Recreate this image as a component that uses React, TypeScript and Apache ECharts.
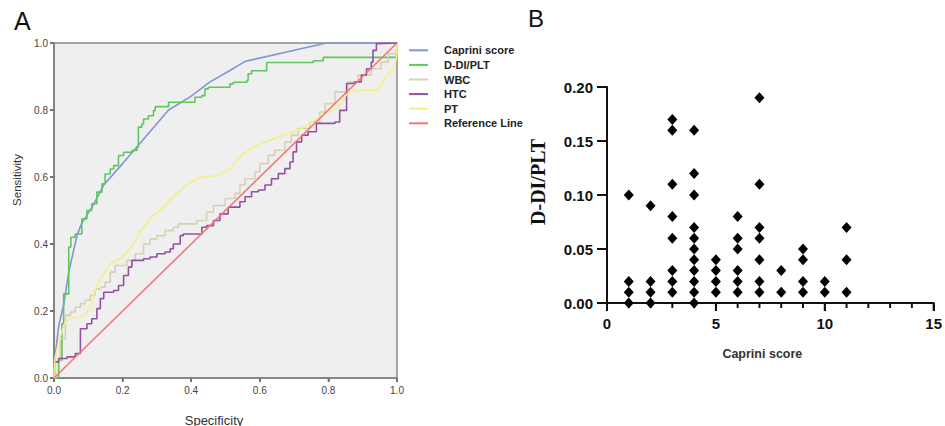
import React, { useEffect, useRef } from "react";
import * as echarts from "echarts";

// ---------- Panel A: ROC curves (x = specificity axis, y = sensitivity) ----------
const rocTickValues = [0, 0.2, 0.4, 0.6, 0.8, 1.0];

const capriniRoc: [number, number][] = [
  [0, 0], [0.005, 0.08], [0.014, 0.157], [0.028, 0.217], [0.043, 0.316], [0.067, 0.425],
  [0.08, 0.46], [0.111, 0.51], [0.145, 0.576], [0.2, 0.64], [0.246, 0.695], [0.334, 0.8],
  [0.397, 0.839], [0.455, 0.884], [0.513, 0.918], [0.557, 0.945], [0.794, 1.0], [1, 1],
];

const ddiPltRoc: [number, number][] = [
  [0, 0], [0.0136, 0.053], [0.023, 0.162], [0.028, 0.251], [0.035, 0.251], [0.043, 0.391],
  [0.049, 0.42], [0.062, 0.43], [0.081, 0.475], [0.096, 0.5], [0.11, 0.52], [0.125, 0.555],
  [0.14, 0.58], [0.149, 0.609], [0.164, 0.624], [0.174, 0.634], [0.188, 0.664], [0.203, 0.674],
  [0.227, 0.679], [0.242, 0.689], [0.246, 0.749], [0.256, 0.758], [0.261, 0.773], [0.275, 0.783],
  [0.29, 0.798], [0.295, 0.81], [0.324, 0.81], [0.334, 0.823], [0.406, 0.823], [0.411, 0.838],
  [0.431, 0.843], [0.44, 0.863], [0.45, 0.868], [0.513, 0.878], [0.523, 0.883], [0.562, 0.888],
  [0.566, 0.908], [0.576, 0.917], [0.615, 0.917], [0.62, 0.942], [0.756, 0.947], [0.785, 0.957],
  [0.998, 0.957], [1.0, 1.0],
];

const wbcRoc: [number, number][] = [
  [0, 0], [0.004, 0.048], [0.018, 0.117], [0.033, 0.187], [0.048, 0.197], [0.062, 0.212],
  [0.077, 0.222], [0.091, 0.232], [0.106, 0.247], [0.12, 0.266], [0.135, 0.271], [0.149, 0.286],
  [0.164, 0.316], [0.178, 0.336], [0.212, 0.351], [0.237, 0.371], [0.261, 0.4], [0.28, 0.415],
  [0.3, 0.425], [0.324, 0.44], [0.348, 0.45], [0.363, 0.46], [0.416, 0.47], [0.445, 0.495],
  [0.465, 0.515], [0.499, 0.536], [0.528, 0.551], [0.542, 0.576], [0.557, 0.595], [0.586, 0.615],
  [0.6, 0.64], [0.625, 0.665], [0.644, 0.68], [0.673, 0.705], [0.692, 0.725], [0.712, 0.745],
  [0.746, 0.764], [0.775, 0.794], [0.79, 0.819], [0.819, 0.854], [0.857, 0.884], [0.887, 0.904],
  [0.925, 0.923], [0.954, 0.943], [0.974, 0.968], [1.0, 1.0],
];

const htcRoc: [number, number][] = [
  [0, 0], [0.001, 0.048], [0.0136, 0.058], [0.038, 0.063], [0.062, 0.073], [0.077, 0.147],
  [0.096, 0.162], [0.11, 0.177], [0.125, 0.207], [0.135, 0.237], [0.145, 0.256], [0.174, 0.261],
  [0.188, 0.276], [0.203, 0.306], [0.217, 0.331], [0.227, 0.351], [0.261, 0.356], [0.28, 0.361],
  [0.3, 0.371], [0.324, 0.376], [0.339, 0.386], [0.348, 0.4], [0.368, 0.425], [0.377, 0.43],
  [0.416, 0.43], [0.431, 0.45], [0.445, 0.455], [0.465, 0.47], [0.484, 0.49], [0.508, 0.51],
  [0.542, 0.526], [0.557, 0.541], [0.576, 0.556], [0.596, 0.561], [0.615, 0.576], [0.634, 0.595],
  [0.654, 0.61], [0.673, 0.625], [0.688, 0.645], [0.697, 0.675], [0.707, 0.705], [0.722, 0.725],
  [0.741, 0.735], [0.765, 0.76], [0.819, 0.764], [0.833, 0.799], [0.853, 0.879], [0.877, 0.884],
  [0.896, 0.904], [0.911, 0.923], [0.925, 0.943], [0.93, 0.978], [0.94, 0.998], [0.945, 1.0], [1, 1],
];

const ptRoc: [number, number][] = [
  [0, 0], [0.004, 0.063], [0.033, 0.167], [0.048, 0.177], [0.086, 0.187], [0.106, 0.217],
  [0.125, 0.276], [0.149, 0.316], [0.164, 0.341], [0.193, 0.356], [0.222, 0.386], [0.251, 0.435],
  [0.28, 0.475], [0.319, 0.511], [0.358, 0.551], [0.416, 0.595], [0.474, 0.605], [0.513, 0.625],
  [0.547, 0.665], [0.596, 0.695], [0.644, 0.715], [0.712, 0.74], [0.75, 0.764], [0.79, 0.789],
  [0.828, 0.809], [0.857, 0.849], [0.896, 0.859], [0.94, 0.859], [0.964, 0.894], [0.988, 0.923],
  [0.998, 0.953], [1.0, 1.0],
];

const referenceLine: [number, number][] = [[0, 0], [1, 1]];

const rocNames = ["Caprini score", "D-DI/PLT", "WBC", "HTC", "PT", "Reference Line"];
const rocColors = ["#8196d6", "#5cc85c", "#d6d0b4", "#9550a4", "#f5f086", "#f27878"];

// ---------- Panel B: scatter of D-DI/PLT by Caprini score ----------
const capriniScores = [1, 2, 3, 4, 5, 6, 7, 8, 9, 10, 11];
const ddiPltByScore = [
  [0.1, 0.02, 0.01, 0.0],
  [0.09, 0.02, 0.01, 0.0],
  [0.17, 0.16, 0.11, 0.08, 0.06, 0.03, 0.02, 0.01],
  [0.16, 0.12, 0.1, 0.07, 0.06, 0.05, 0.04, 0.03, 0.02, 0.01, 0.0],
  [0.04, 0.03, 0.02, 0.01],
  [0.08, 0.06, 0.05, 0.03, 0.02, 0.01],
  [0.19, 0.11, 0.07, 0.06, 0.04, 0.02, 0.01],
  [0.03, 0.01],
  [0.05, 0.04, 0.02, 0.01],
  [0.02, 0.01],
  [0.07, 0.04, 0.01],
];
const scatterXTickValues = [0, 1, 2, 3, 4, 5, 6, 7, 8, 9, 10, 11, 12, 13, 14, 15];
const scatterYTickValues = [0, 0.05, 0.1, 0.15, 0.2];

const SANS = "'Liberation Sans', Arial, Helvetica, sans-serif";
const SERIF = "'Liberation Serif', 'Times New Roman', serif";

export default function App() {
  const ref = useRef<HTMLDivElement>(null);

  useEffect(() => {
    if (!ref.current) return;
    const chart = echarts.init(ref.current, undefined, { renderer: "svg" });

    const scatterData: [number, number][] = [];
    capriniScores.forEach((s, i) => {
      ddiPltByScore[i].forEach((v) => scatterData.push([s, v]));
    });

    const rocData = [capriniRoc, ddiPltRoc, wbcRoc, htcRoc, ptRoc, referenceLine];
    const stepped = [false, "end", "end", "end", false, false];

    const rocSeries = rocData.map((d, i) => ({
      name: rocNames[i],
      type: "line",
      xAxisIndex: 0,
      yAxisIndex: 0,
      data: d,
      step: stepped[i] as any,
      showSymbol: false,
      symbol: "none",
      smooth: i === 4 ? 0.3 : false,
      color: rocColors[i],
      lineStyle: { color: rocColors[i], width: 1.6 },
      itemStyle: { color: rocColors[i] },
      z: i === 5 ? 3 : 2,
    }));

    const greyAxisLine = { show: true, lineStyle: { color: "#7d7d7d", width: 1.5 } };

    const baseGraphics: any[] = [
      {
        type: "text", id: "lblA", left: 14, top: 8,
        style: { text: "A", fontFamily: SANS, fontSize: 25, fill: "#111" },
      },
      {
        type: "text", id: "lblB", left: 528, top: 6,
        style: { text: "B", fontFamily: SANS, fontSize: 24, fill: "#111" },
      },
      {
        type: "text", id: "sens", x: 17, y: 180, rotation: Math.PI / 2,
        style: {
          text: "Sensitivity", fontFamily: SANS, fontSize: 11.5, fill: "#333",
          align: "center", verticalAlign: "middle",
        },
      },
      {
        type: "text", id: "spec", x: 214, y: 420,
        style: {
          text: "Specificity", fontFamily: SANS, fontSize: 13, fill: "#333",
          align: "center", verticalAlign: "middle",
        },
      },
      {
        type: "text", id: "ddiName", x: 538, y: 182, rotation: Math.PI / 2,
        style: {
          text: "D-DI/PLT", fontFamily: SERIF, fontSize: 20, fontWeight: "bold", fill: "#111",
          align: "center", verticalAlign: "middle",
        },
      },
    ];

    chart.setOption({
      animation: false,
      backgroundColor: "#ffffff",
      grid: [
        {
          left: 54, top: 43, width: 343, height: 335,
          show: true, backgroundColor: "#efefef", borderColor: "#8a8a8a", borderWidth: 1.5,
        },
        { left: 607, top: 87, width: 330, height: 216 },
      ],
      legend: {
        data: rocNames,
        orient: "vertical",
        left: 409,
        top: 43,
        padding: 0,
        itemWidth: 19,
        itemHeight: 2,
        itemGap: 0,
        icon: "rect",
        textStyle: {
          fontFamily: SANS, fontSize: 11, fontWeight: "bold", color: "#222",
          lineHeight: 14.6, padding: [0, 0, 0, 11],
        },
      },
      xAxis: [
        {
          type: "value", gridIndex: 0, min: 0, max: 1, interval: 0.2,
          axisLine: greyAxisLine,
          axisTick: { show: true, length: 4, lineStyle: { color: "#6d6d6d", width: 1.5 } },
          axisLabel: {
            fontFamily: SANS, fontSize: 10, color: "#444", margin: 7,
            formatter: (v: number) => v.toFixed(1),
          },
          splitLine: { show: false },
        },
        {
          type: "value", gridIndex: 1, min: 0, max: 15, interval: 5,
          axisLine: { show: true, onZero: false, lineStyle: { color: "#111", width: 2 } },
          axisTick: { show: true, length: 8, lineStyle: { color: "#111", width: 2 } },
          axisLabel: { fontFamily: SANS, fontSize: 15, fontWeight: "bold", color: "#111", margin: 13 },
          splitLine: { show: false },
          name: "Caprini score",
          nameLocation: "middle",
          nameGap: 44,
          nameTextStyle: { fontFamily: SANS, fontSize: 12.5, fontWeight: "bold", color: "#333", padding: [0, 16, 0, 0] },
        },
      ],
      yAxis: [
        {
          type: "value", gridIndex: 0, min: 0, max: 1, interval: 0.2,
          axisLine: greyAxisLine,
          axisTick: { show: true, length: 4, lineStyle: { color: "#6d6d6d", width: 1.5 } },
          axisLabel: {
            fontFamily: SANS, fontSize: 10, color: "#444", margin: 6,
            formatter: (v: number) => v.toFixed(1),
          },
          splitLine: { show: false },
        },
        {
          type: "value", gridIndex: 1, min: 0, max: 0.2, interval: 0.05,
          axisLine: { show: true, onZero: false, lineStyle: { color: "#111", width: 2 } },
          axisTick: { show: true, length: 10, lineStyle: { color: "#111", width: 2 } },
          axisLabel: {
            fontFamily: SANS, fontSize: 15, fontWeight: "bold", color: "#111", margin: 14,
            formatter: (v: number) => v.toFixed(2),
          },
          splitLine: { show: false },
        },
      ],
      graphic: baseGraphics,
      series: [
        ...rocSeries,
        {
          name: "D-DI/PLT scatter",
          type: "scatter",
          xAxisIndex: 1,
          yAxisIndex: 1,
          data: scatterData,
          symbol: "diamond",
          symbolSize: [10, 11],
          clip: false,
          itemStyle: { color: "#000", opacity: 1 },
        },
      ],
    });

    // Tick marks drawn as graphic lines at positions converted through the axes' own scales.
    const tickLines: any[] = [];
    const addTick = (gridIdx: number, value: [number, number], dx: number, dy: number, color: string, w: number) => {
      let p: any = null;
      try {
        p = chart.convertToPixel({ xAxisIndex: gridIdx, yAxisIndex: gridIdx } as any, value);
      } catch (e) {
        p = null;
      }
      if (!p || !isFinite(p[0]) || !isFinite(p[1])) return;
      tickLines.push({
        type: "line",
        silent: true,
        shape: { x1: p[0], y1: p[1], x2: p[0] + dx, y2: p[1] + dy },
        style: { stroke: color, lineWidth: w },
      });
    };
    rocTickValues.forEach((v) => {
      addTick(0, [v, 0], 0, 4, "#6d6d6d", 1.5);
      addTick(0, [0, v], -4, 0, "#6d6d6d", 1.5);
    });
    scatterXTickValues.forEach((v) => addTick(1, [v, 0], 0, v % 5 === 0 ? 8 : 5, "#111", 2));
    scatterYTickValues.forEach((v) => addTick(1, [0, v], -10, 0, "#111", 2));

    chart.setOption({
      graphic: [...baseGraphics, { type: "group", id: "ticks", z: 100, children: tickLines }],
    });

    return () => chart.dispose();
  }, []);

  return (
    <div
      ref={ref}
      style={{ position: "fixed", left: 0, top: 0, width: 945, height: 426, background: "#fff" }}
    />
  );
}
